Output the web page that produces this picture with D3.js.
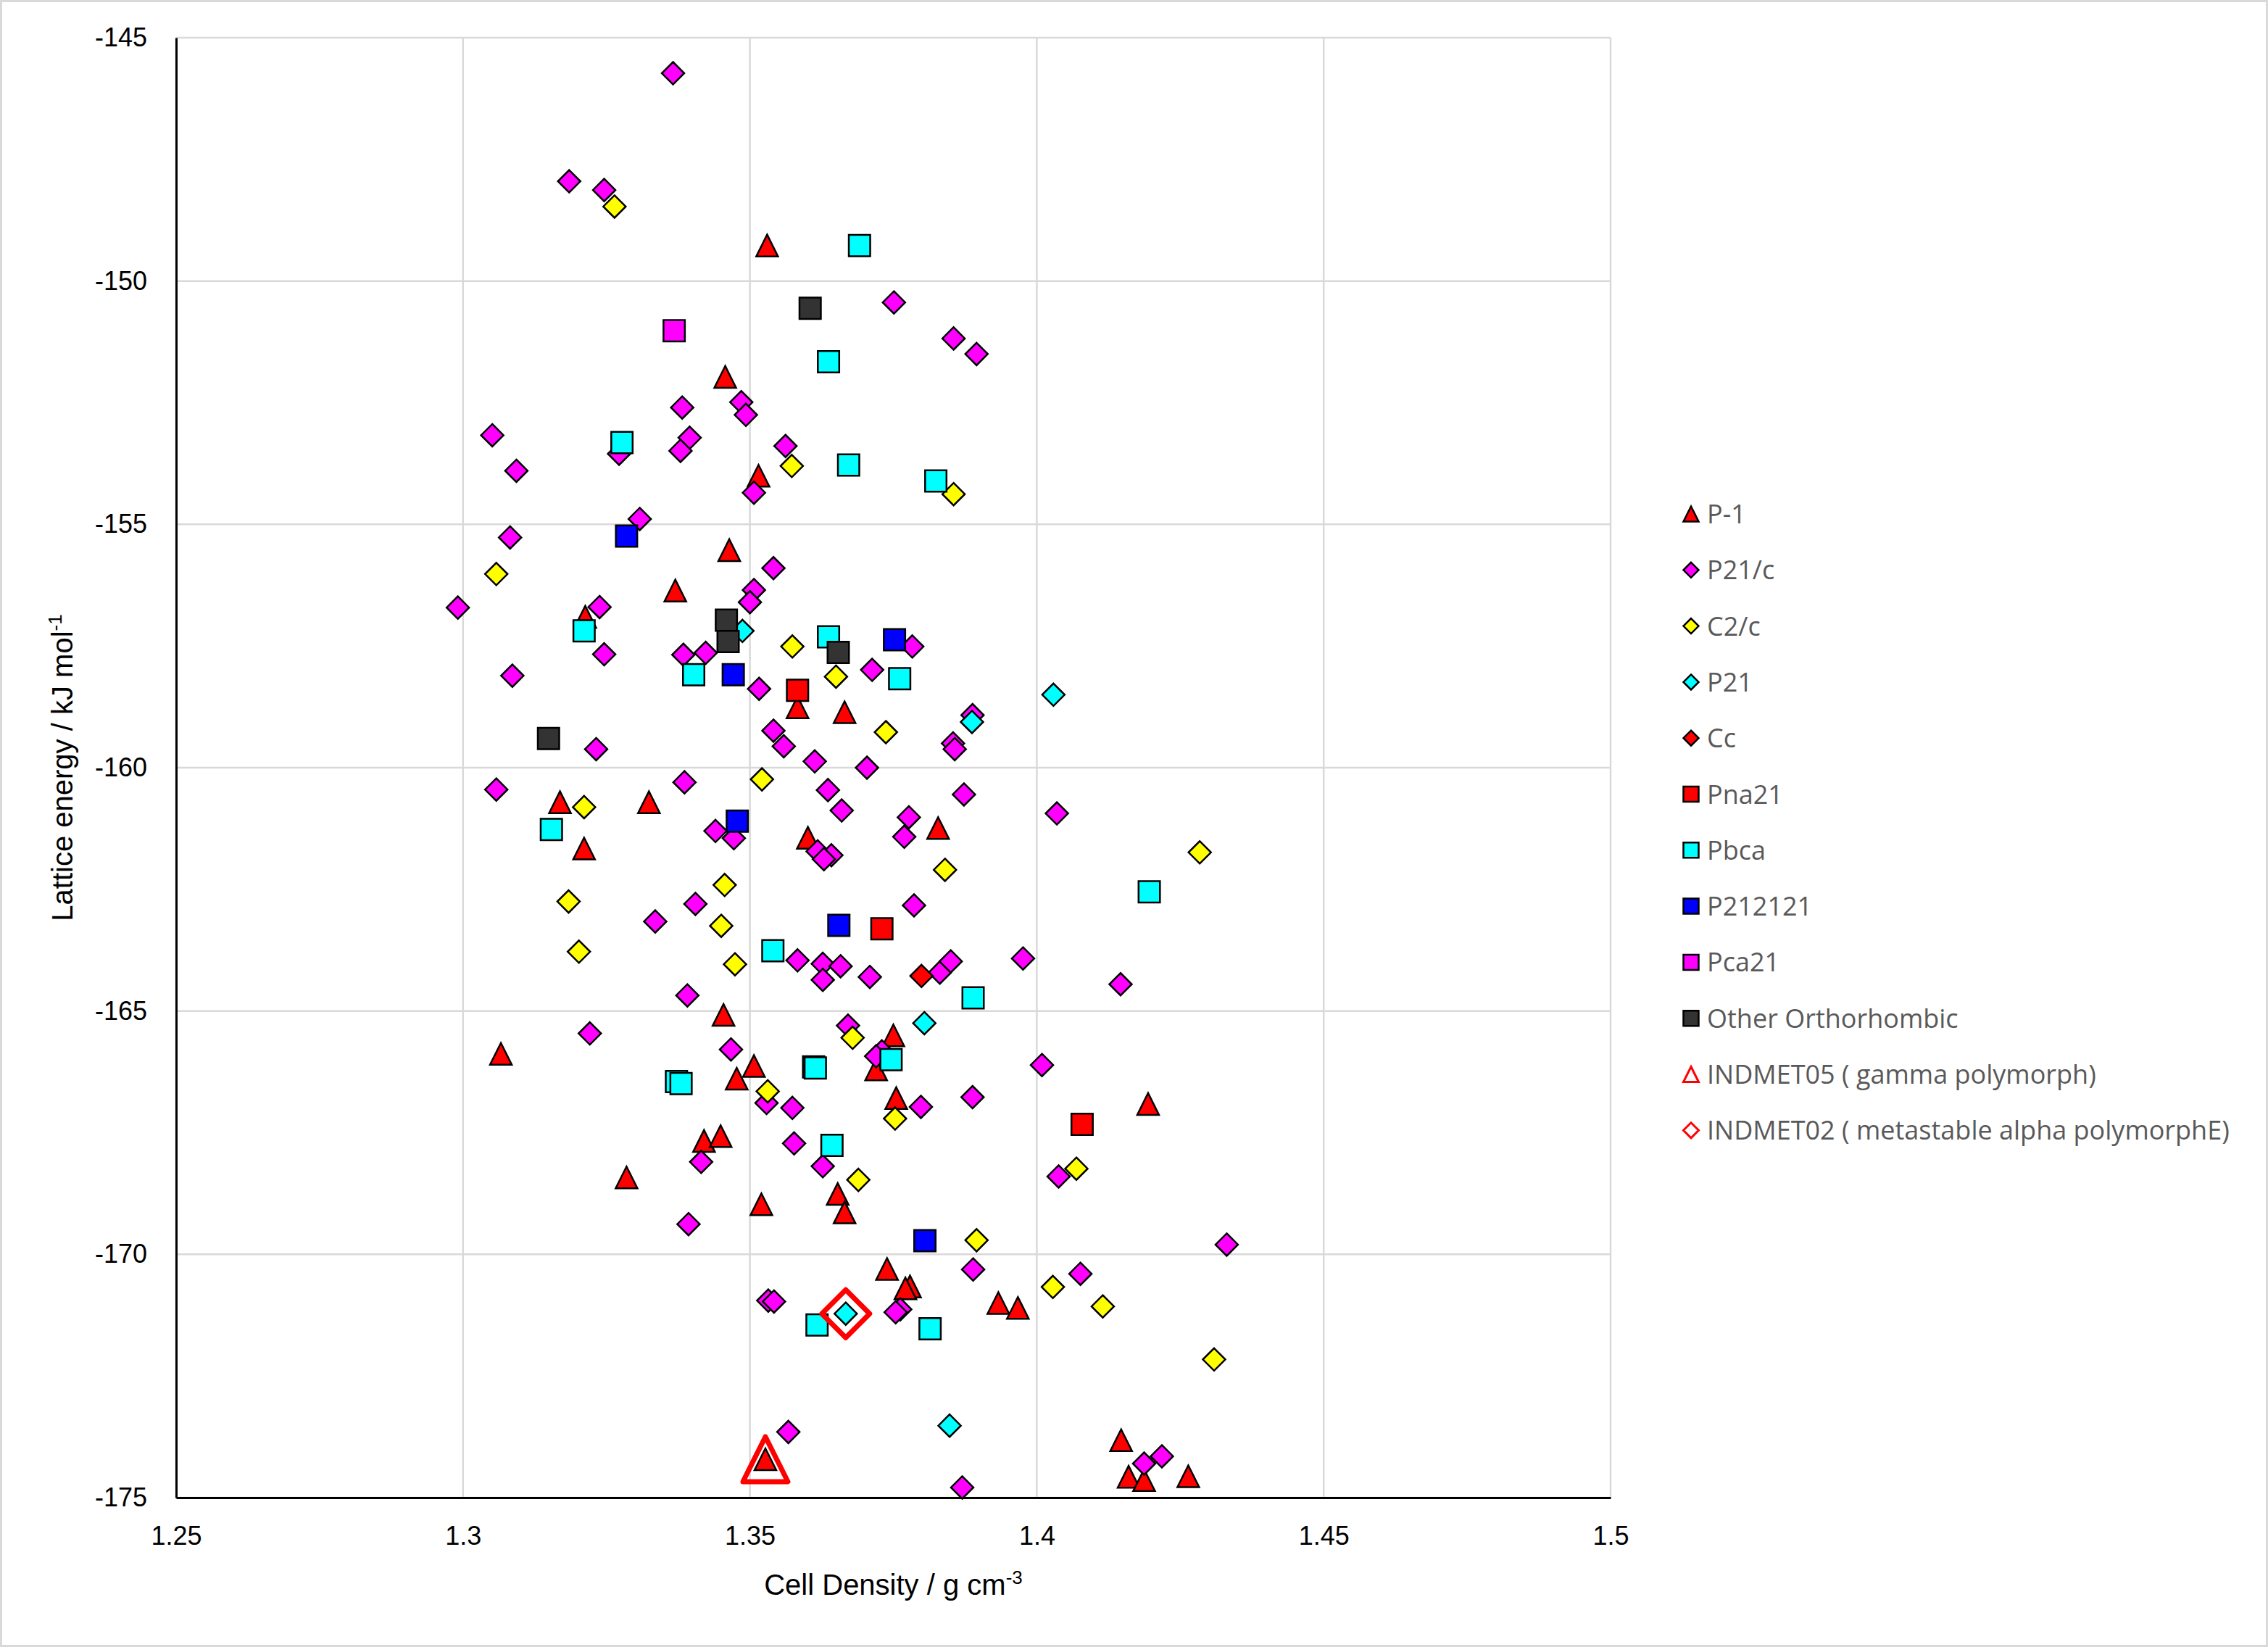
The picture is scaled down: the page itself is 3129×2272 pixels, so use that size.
<!DOCTYPE html>
<html>
<head>
<meta charset="utf-8">
<script src="https://cdnjs.cloudflare.com/ajax/libs/d3/7.8.5/d3.min.js"></script>
<style>
body { margin: 0; background: #fff; }
</style>
</head>
<body>
<div id="chart"></div>
<script>
var width = 3129, height = 2272;
var xTicks = [1.25, 1.3, 1.35, 1.4, 1.45, 1.5];
var yTicks = [-145, -150, -155, -160, -165, -170, -175];

// [cell density, lattice energy]
var p1 = [[1.3530,-149.27],[1.3457,-151.97],[1.3515,-154.00],[1.3464,-155.53],[1.3370,-156.36],
  [1.3213,-156.90],[1.3583,-158.76],[1.3665,-158.86],[1.3169,-160.71],[1.3324,-160.71],
  [1.3211,-161.66],[1.3601,-161.44],[1.3828,-161.24],[1.3454,-165.08],[1.3066,-165.88],
  [1.3507,-166.13],[1.3477,-166.39],[1.3750,-165.50],[1.3720,-166.20],[1.3755,-166.79],
  [1.4194,-166.91],[1.3420,-167.67],[1.3449,-167.57],[1.3285,-168.42],[1.3520,-168.97],
  [1.3653,-168.76],[1.3665,-169.14],[1.3739,-170.30],[1.3779,-170.66],[1.3771,-170.70],
  [1.3933,-171.00],[1.3967,-171.10],[1.3527,-174.21],[1.4147,-173.82],[1.4160,-174.57],
  [1.4187,-174.64],[1.4264,-174.56]];
var p21c = [[1.3366,-145.73],[1.3185,-147.95],[1.3246,-148.13],[1.3751,-150.44],[1.3855,-151.18],
  [1.3895,-151.50],[1.3382,-152.60],[1.3485,-152.49],[1.3493,-152.75],[1.3051,-153.17],
  [1.3272,-153.55],[1.3395,-153.22],[1.3379,-153.49],[1.3562,-153.39],[1.3093,-153.90],
  [1.3507,-154.35],[1.3308,-154.89],[1.3082,-155.27],[1.3541,-155.90],[1.3507,-156.35],
  [1.3500,-156.60],[1.2991,-156.71],[1.3238,-156.70],[1.3246,-157.67],[1.3384,-157.68],
  [1.3423,-157.64],[1.3086,-158.11],[1.3516,-158.38],[1.3232,-159.62],[1.3541,-159.24],
  [1.3559,-159.56],[1.3613,-159.87],[1.3386,-160.30],[1.3058,-160.45],[1.3636,-160.46],
  [1.3660,-160.88],[1.3440,-161.30],[1.3472,-161.45],[1.3618,-161.72],[1.3642,-161.80],
  [1.3629,-161.88],[1.3405,-162.80],[1.3335,-163.16],[1.3583,-163.96],[1.3627,-164.03],
  [1.3658,-164.08],[1.3627,-164.36],[1.3391,-164.68],[1.3783,-157.51],[1.3713,-157.99],
  [1.3888,-158.92],[1.3854,-159.50],[1.3857,-159.62],[1.3704,-160.00],[1.3873,-160.55],
  [1.4035,-160.94],[1.3777,-161.02],[1.3769,-161.42],[1.3786,-162.83],[1.3709,-164.30],
  [1.3831,-164.21],[1.3850,-163.98],[1.3976,-163.92],[1.4146,-164.45],[1.3221,-165.46],
  [1.3467,-165.79],[1.3529,-166.89],[1.3574,-166.99],[1.3415,-168.10],[1.3577,-167.72],
  [1.3627,-168.19],[1.3393,-169.38],[1.3532,-170.95],[1.3542,-170.97],[1.3567,-173.65],
  [1.3671,-165.30],[1.3730,-165.83],[1.3720,-165.93],[1.4009,-166.11],[1.3798,-166.97],
  [1.3888,-166.77],[1.4038,-168.40],[1.4331,-169.80],[1.3889,-170.31],[1.3762,-171.13],
  [1.3754,-171.19],[1.4076,-170.40],[1.3870,-174.79],[1.4187,-174.30],[1.4218,-174.15]];
var c2c = [[1.3264,-148.47],[1.3573,-153.80],[1.3855,-154.38],[1.3058,-156.02],[1.3574,-157.51],
  [1.3650,-158.13],[1.3521,-160.24],[1.3211,-160.81],[1.3456,-162.41],[1.3184,-162.75],
  [1.3450,-163.25],[1.3202,-163.78],[1.3474,-164.04],[1.3737,-159.27],[1.3840,-162.10],
  [1.4284,-161.74],[1.3531,-166.65],[1.3679,-165.55],[1.3753,-167.21],[1.4069,-168.24],
  [1.3689,-168.47],[1.3895,-169.71],[1.4028,-170.67],[1.4115,-171.07],[1.4309,-172.16]];
var p21 = [[1.3487,-157.19],[1.4029,-158.50],[1.3887,-159.06],[1.3804,-165.25],[1.3667,-171.22],[1.3848,-173.52]];
var cc = [[1.3799,-164.28]];
var pna21 = [[1.3583,-158.41],[1.3730,-163.31],[1.4079,-167.33]];
var pbca = [[1.3691,-149.27],[1.3637,-151.66],[1.3672,-153.78],[1.3824,-154.11],[1.3277,-153.32],
  [1.3211,-157.19],[1.3402,-158.09],[1.3637,-157.31],[1.3154,-161.27],[1.3540,-163.76],
  [1.3761,-158.17],[1.4196,-162.55],[1.3889,-164.73],[1.3372,-166.45],[1.3380,-166.49],
  [1.3611,-166.15],[1.3614,-166.17],[1.3643,-167.76],[1.3617,-171.45],[1.3746,-166.00],
  [1.3814,-171.53]];
var p212121 = [[1.3285,-155.24],[1.3471,-158.09],[1.3478,-161.10],[1.3655,-163.24],[1.3752,-157.37],[1.3805,-169.72]];
var pca21 = [[1.3368,-151.02]];
var otherOrtho = [[1.3605,-150.56],[1.3459,-156.97],[1.3462,-157.41],[1.3654,-157.63],[1.3149,-159.40]];
var indmet05 = [[1.3527,-174.21]];
var indmet02 = [[1.3667,-171.22]];

var series = [
  {name: "P-1", data: p1, shape: "triangle", fill: "#ff0000"},
  {name: "P21/c", data: p21c, shape: "diamond", fill: "#ff00ff"},
  {name: "C2/c", data: c2c, shape: "diamond", fill: "#ffff00"},
  {name: "P21", data: p21, shape: "diamond", fill: "#00ffff"},
  {name: "Cc", data: cc, shape: "diamond", fill: "#ff0000"},
  {name: "Pna21", data: pna21, shape: "square", fill: "#ff0000"},
  {name: "Pbca", data: pbca, shape: "square", fill: "#00ffff"},
  {name: "P212121", data: p212121, shape: "square", fill: "#0000ff"},
  {name: "Pca21", data: pca21, shape: "square", fill: "#ff00ff"},
  {name: "Other Orthorhombic", data: otherOrtho, shape: "square", fill: "#333333"},
  {name: "INDMET05 ( gamma polymorph)", data: indmet05, shape: "triangle", fill: "none", ref: true},
  {name: "INDMET02 ( metastable alpha polymorphE)", data: indmet02, shape: "diamond", fill: "none", ref: true}
];

// marker outline, centred on 0,0
function shapePath(shape, s) {
  var h = s / 2;
  if (shape == "square") return "M" + (-h) + "," + (-h) + "h" + s + "v" + s + "h" + (-s) + "Z";
  if (shape == "diamond") return "M0," + (-h) + "L" + h + ",0L0," + h + "L" + (-h) + ",0Z";
  return "M0," + (-h) + "L" + h + "," + h + "L" + (-h) + "," + h + "Z";
}
var markerSize = {square: 29.5, diamond: 31, triangle: 30};
var refSize = {triangle: 62, diamond: 66};

var plotLeft = 243, plotRight = 2222, plotTop = 52, plotBottom = 2066;
var x = d3.scaleLinear().domain([1.25, 1.5]).range([plotLeft, plotRight]);
var y = d3.scaleLinear().domain([-175, -145]).range([plotBottom, plotTop]);

var svg = d3.select("#chart").append("svg")
  .attr("width", width).attr("height", height)
  .style("font-family", "'Liberation Sans', Arial, sans-serif");

svg.append("rect").attr("x", 1.5).attr("y", 1.5)
  .attr("width", width - 3).attr("height", height - 3)
  .attr("fill", "#fff").attr("stroke", "#d9d9d9").attr("stroke-width", 3);

// gridlines
svg.append("g").selectAll("line").data(yTicks).enter().append("line")
  .attr("x1", plotLeft).attr("x2", plotRight)
  .attr("y1", function(d){ return y(d); }).attr("y2", function(d){ return y(d); })
  .attr("stroke", "#d9d9d9").attr("stroke-width", 2.5);
svg.append("g").selectAll("line").data(xTicks).enter().append("line")
  .attr("y1", plotTop).attr("y2", plotBottom)
  .attr("x1", function(d){ return x(d); }).attr("x2", function(d){ return x(d); })
  .attr("stroke", "#d9d9d9").attr("stroke-width", 2.5);

// axes
var xAxis = svg.append("g").attr("transform", "translate(0," + plotBottom + ")")
  .call(d3.axisBottom(x).tickValues(xTicks).tickSize(0).tickPadding(39).tickFormat(function(d){ return String(d); }));
var yAxis = svg.append("g").attr("transform", "translate(" + plotLeft + ",0)")
  .call(d3.axisLeft(y).tickValues(yTicks).tickSize(0).tickPadding(40).tickFormat(function(d){ return String(d); }));
[xAxis, yAxis].forEach(function(a){
  a.select(".domain").attr("stroke", "#000").attr("stroke-width", 3);
  a.selectAll("text").attr("font-size", 36).attr("fill", "#000")
    .attr("font-family", "'Liberation Sans', Arial, sans-serif");
});

// axis titles
var xt = svg.append("text").attr("x", (plotLeft + plotRight) / 2).attr("y", 2200)
  .attr("text-anchor", "middle").attr("font-size", 40).attr("fill", "#000");
xt.append("tspan").text("Cell Density / g cm");
xt.append("tspan").attr("font-size", 26).attr("dy", -15).text("-3");

var yt = svg.append("text")
  .attr("transform", "translate(100," + ((plotTop + plotBottom) / 2) + ") rotate(-90)")
  .attr("text-anchor", "middle").attr("font-size", 40).attr("fill", "#000");
yt.append("tspan").text("Lattice energy / kJ mol");
yt.append("tspan").attr("font-size", 26).attr("dy", -15).text("-1");

// points
series.forEach(function(s){
  var size = s.ref ? refSize[s.shape] : markerSize[s.shape];
  svg.append("g").selectAll("path").data(s.data).enter().append("path")
    .attr("transform", function(d){ return "translate(" + x(d[0]) + "," + y(d[1]) + ")"; })
    .attr("d", shapePath(s.shape, size))
    .attr("fill", s.fill)
    .attr("stroke", s.ref ? "#ff0000" : "#000")
    .attr("stroke-width", s.ref ? 7 : 2.5)
    .attr("stroke-linejoin", s.ref ? "round" : "miter");
});

// legend
var legend = svg.append("g").attr("transform", "translate(2333,709)");
var rows = legend.selectAll("g").data(series).enter().append("g")
  .attr("transform", function(d, i){ return "translate(0," + (i * 77.3) + ")"; });
rows.append("path")
  .attr("d", function(d){ return shapePath(d.shape, 21); })
  .attr("fill", function(d){ return d.ref ? "#fff" : d.fill; })
  .attr("stroke", function(d){ return d.ref ? "#ff0000" : "#000"; })
  .attr("stroke-width", function(d){ return d.ref ? 3 : 2.5; });
rows.append("text").attr("x", 22).attr("y", 13)
  .attr("font-family", "'Open Sans', sans-serif").attr("font-size", 36).attr("fill", "#595959")
  .text(function(d){ return d.name; });
</script>
</body>
</html>
